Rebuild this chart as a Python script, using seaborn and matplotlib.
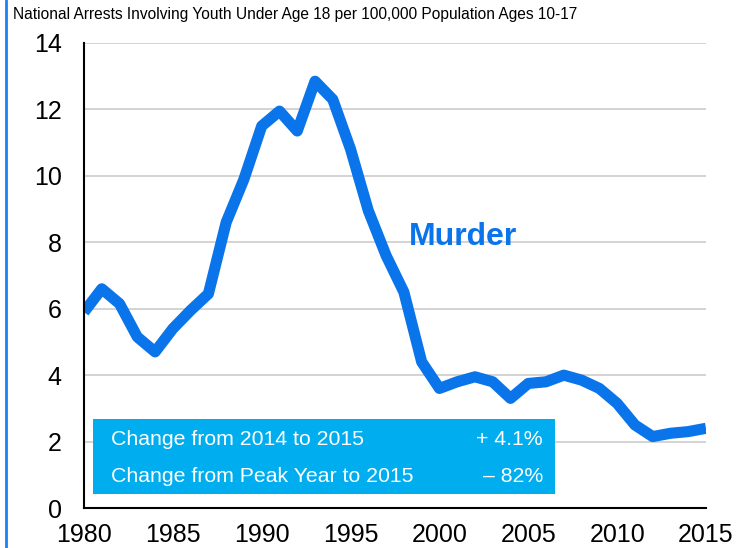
import matplotlib
matplotlib.use("Agg")
import matplotlib.pyplot as plt
from matplotlib.patches import Rectangle
from matplotlib.lines import Line2D
import seaborn as sns
import pandas as pd

# ---- data ----
years = list(range(1980, 2016))
rates = [5.9, 6.6, 6.15, 5.15, 4.7, 5.4, 5.95, 6.45, 8.6, 9.9, 11.5, 11.95,
         11.35, 12.85, 12.3, 10.8, 8.95, 7.6, 6.5, 4.4, 3.6, 3.8, 3.95, 3.8,
         3.3, 3.75, 3.8, 4.0, 3.85, 3.6, 3.15, 2.5, 2.15, 2.25, 2.3, 2.4]
x_ticks = [1980, 1985, 1990, 1995, 2000, 2005, 2010, 2015]
y_ticks = [0, 2, 4, 6, 8, 10, 12, 14]
title_text = "National Arrests Involving Youth Under Age 18 per 100,000 Population Ages 10-17"
series_label = "Murder"
box_rows = [("Change from 2014 to 2015", "+ 4.1%"),
            ("Change from Peak Year to 2015", "\u2013 82%")]

LINE_COLOR = "#0A74EA"
BOX_COLOR = "#00AEEF"

sns.set_style("white")
plt.rcParams["font.family"] = ["Liberation Sans", "DejaVu Sans"]

df = pd.DataFrame({"year": years, "rate": rates})

fig = plt.figure(figsize=(7.49, 5.48), dpi=100)
ax = fig.add_axes([84 / 749, 40 / 548, 622 / 749, 465 / 548])

sns.lineplot(data=df, x="year", y="rate", ax=ax, color=LINE_COLOR,
             linewidth=8, solid_joinstyle="round", solid_capstyle="butt")

ax.set_xlim(1980, 2015)
ax.set_ylim(0, 14)
ax.set_xticks(x_ticks)
ax.set_yticks(y_ticks)
ax.set_xticklabels([str(v) for v in x_ticks])
ax.set_yticklabels([str(v) for v in y_ticks])
ax.set_xlabel("")
ax.set_ylabel("")

ax.yaxis.grid(True, color="#CCCCCC", linewidth=1.2)
ax.xaxis.grid(False)
ax.set_axisbelow(True)

for s in ["top", "right"]:
    ax.spines[s].set_visible(False)
for s in ["left", "bottom"]:
    ax.spines[s].set_color("black")
    ax.spines[s].set_linewidth(1.5)

ax.tick_params(axis="x", direction="in", length=7, width=1.5, pad=11,
               labelsize=18, colors="black")
ax.tick_params(axis="y", direction="in", length=8, width=1.5, pad=16,
               labelsize=18, colors="black")

# series label
ax.text(2001.3, 8.15, series_label, ha="center", va="center",
        fontsize=23, fontweight="bold", color=LINE_COLOR)

# info box
ax.add_patch(Rectangle((0.014, 0.030), 0.743, 0.161, transform=ax.transAxes,
                       facecolor=BOX_COLOR, edgecolor="none", zorder=5))
row_y = [0.148, 0.068]
for (lbl, val), yy in zip(box_rows, row_y):
    ax.text(0.0434, yy, lbl, transform=ax.transAxes, ha="left", va="center",
            fontsize=15.3, color="white", zorder=6)
    ax.text(0.738, yy, val, transform=ax.transAxes, ha="right", va="center",
            fontsize=15.3, color="white", zorder=6)

# title
fig.text(13 / 749, 1 - 14 / 548, title_text, ha="left", va="center",
         fontsize=11.2, color="black")

# left border line
fig.add_artist(Line2D([6 / 749, 6 / 749], [0, 1], transform=fig.transFigure,
                      color="#1A80F5", linewidth=2))

fig.savefig("out.png", dpi=100)
